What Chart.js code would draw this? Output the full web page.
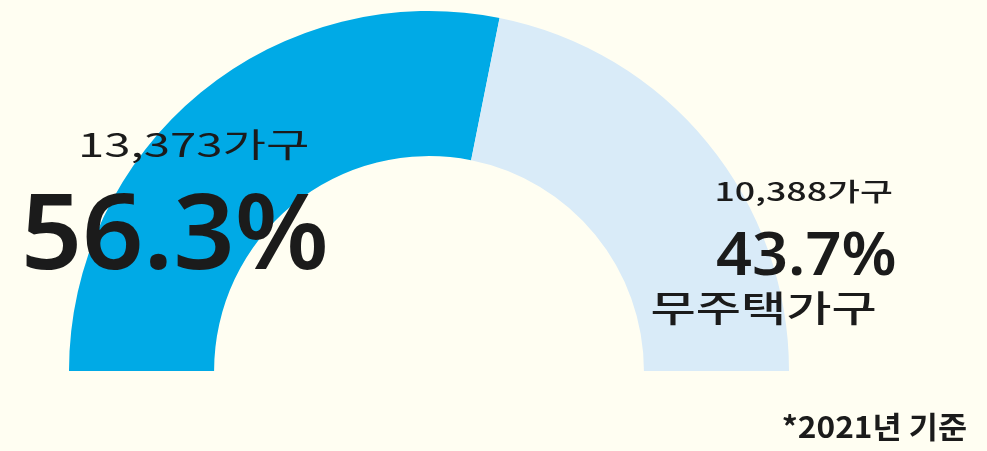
<!DOCTYPE html>
<html>
<head>
<meta charset="utf-8">
<script src="https://cdn.jsdelivr.net/npm/chart.js@4/dist/chart.umd.min.js"></script>
<style>
  html, body { margin: 0; padding: 0; background: #fffef2; }
  #wrap { width: 987px; height: 451px; position: relative; }
</style>
</head>
<body>
<div id="wrap"><canvas id="c" width="987" height="451"></canvas></div>
<script>
const categories = ["주택 소유 가구", "무주택가구"];
const households = [13373, 10388];
const percents = ["56.3%", "43.7%"];
const countLabels = ["13,373가구", "10,388가구"];
const seriesColors = ["#00aae6", "#d9ebf8"];
const footnote = "*2021년 기준";

// draw text stretched to fit a box (left, top, width, height) of its ink bounds
function fitText(ctx, text, left, top, w, h, font, color) {
  ctx.save();
  ctx.font = font;
  ctx.textAlign = "left";
  ctx.textBaseline = "alphabetic";
  const m = ctx.measureText(text);
  const inkW = m.actualBoundingBoxLeft + m.actualBoundingBoxRight;
  const inkH = m.actualBoundingBoxAscent + m.actualBoundingBoxDescent;
  const sx = w / inkW, sy = h / inkH;
  ctx.translate(left, top);
  ctx.scale(sx, sy);
  ctx.fillStyle = color;
  ctx.fillText(text, m.actualBoundingBoxLeft, m.actualBoundingBoxAscent);
  ctx.restore();
}

const labelPlugin = {
  id: "labels",
  afterDraw(chart) {
    const ctx = chart.ctx;
    const ink = "#1b1b1b";
    const num = "'Noto Sans'";
    const kr = "'Noto Sans CJK KR'";
    fitText(ctx, countLabels[0], 82, 128, 226, 35, "400 36px " + kr, ink);
    fitText(ctx, percents[0], 26, 193, 299, 77, "600 100px " + num, ink);
    fitText(ctx, countLabels[1], 717, 178, 175, 28, "500 28px " + kr, ink);
    fitText(ctx, percents[1], 717, 232, 178, 44, "600 60px " + num, ink);
    fitText(ctx, categories[1], 652, 291, 223, 35, "500 34px " + kr, ink);
    fitText(ctx, footnote, 783, 411, 183, 30, "700 26px " + kr, ink);
  }
};

new Chart(document.getElementById("c"), {
  type: "doughnut",
  data: {
    labels: categories,
    datasets: [{
      data: households,
      backgroundColor: seriesColors,
      borderWidth: 0,
      hoverOffset: 0
    }]
  },
  options: {
    responsive: false,
    animation: false,
    rotation: -90,
    circumference: 180,
    cutout: "59.7%",
    layout: { padding: { left: 69, right: 198, top: 11, bottom: 80 } },
    plugins: {
      legend: { display: false },
      tooltip: { enabled: false }
    }
  },
  plugins: [labelPlugin]
});
</script>
</body>
</html>
